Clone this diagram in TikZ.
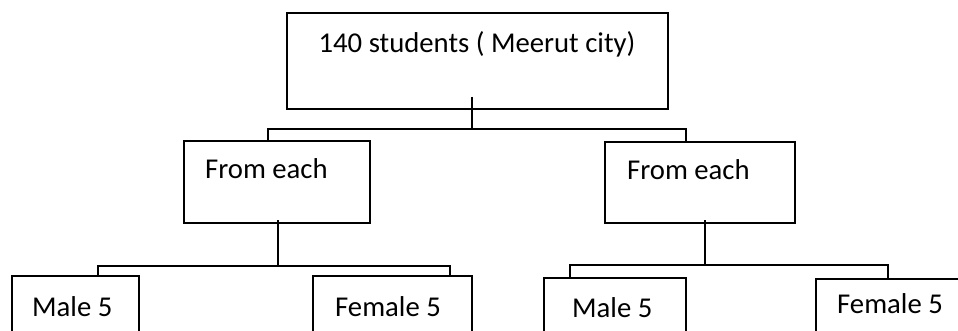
\documentclass[tikz,border=0pt]{standalone}
\usepackage{fontspec}
\setmainfont{Carlito}
\begin{document}
\begin{tikzpicture}[x=1pt,y=-1pt,
  box/.style={draw=black,line width=2pt,rectangle,inner sep=0pt,fill=none},
  lbl/.style={anchor=base west,inner sep=0pt,font=\fontsize{28.7}{34}\selectfont},
  conn/.style={draw=black,line width=2pt}]
\useasboundingbox (0,0) rectangle (958,331);
\clip (0,0) rectangle (958,331);
% boxes
\node[box,minimum width=381pt,minimum height=96pt] (top) at (477.5,61) {};
\node[box,minimum width=186pt,minimum height=82pt] (fromL) at (277,182) {};
\node[box,minimum width=190pt,minimum height=81pt] (fromR) at (700,182.5) {};
\node[box,minimum width=127pt,minimum height=100pt] (maleL) at (75.5,326) {};
\node[box,minimum width=159pt,minimum height=100pt] (femL) at (392.5,326) {};
\node[box,minimum width=142pt,minimum height=100pt] (maleR) at (615,328) {};
\node[box,minimum width=180pt,minimum height=100pt] (femR) at (906,329) {};
% labels
\node[anchor=base,inner sep=0pt,font=\fontsize{28.7}{34}\selectfont] (ttop) at (477,53) {140 students ( Meerut city)};
\node[lbl] (tfromL) at (205,179) {From each};
\node[lbl] (tfromR) at (627,180) {From each};
\node[lbl] (tmaleL) at (32,316) {Male 5};
\node[lbl] (tfemL) at (335,316) {Female 5};
\node[lbl] (tmaleR) at (572,317) {Male 5};
\node[lbl] (tfemR) at (837,313) {Female 5};
% junction coordinates
\coordinate (t0) at (472,97);
\coordinate (tj) at (472,129);
\coordinate (tl) at (268,129);
\coordinate (tr) at (686,129);
\coordinate (l0) at (278,220);
\coordinate (lj) at (278,266);
\coordinate (ll) at (98,266);
\coordinate (lr) at (450,266);
\coordinate (r0) at (705,220);
\coordinate (rj) at (705,265);
\coordinate (rl) at (570,265);
\coordinate (rr) at (888,265);
% connectors
\draw[conn] (t0) -- (tj);
\draw[conn] (fromL.north -| tl) -- (tl) -- (tr) -- (fromR.north -| tr);
\draw[conn] (l0) -- (lj);
\draw[conn] (maleL.north -| ll) -- (ll) -- (lr) -- (femL.north -| lr);
\draw[conn] (r0) -- (rj);
\draw[conn] (maleR.north -| rl) -- (rl) -- (rr) -- (femR.north -| rr);
\end{tikzpicture}
\end{document}
